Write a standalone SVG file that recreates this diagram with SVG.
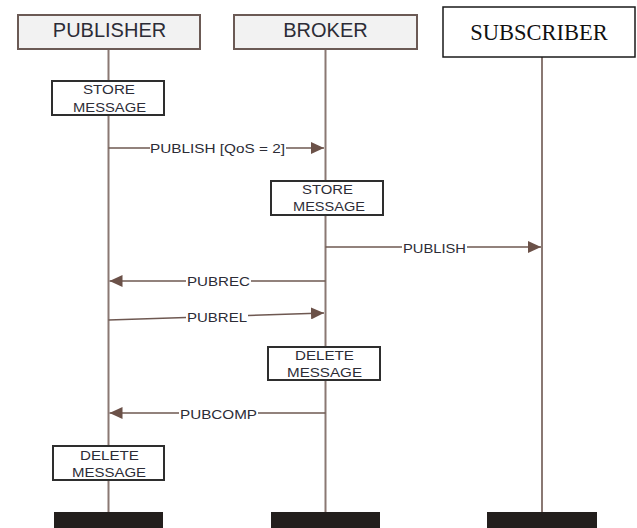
<svg xmlns="http://www.w3.org/2000/svg" width="637" height="528" viewBox="0 0 637 528">
  <style>
    .head rect { fill: #f2f2f2; stroke: #6b5a55; stroke-width: 2; }
    .sub rect { fill: #ffffff; stroke: #1a1a1a; stroke-width: 1.5; }
    .lifeline { stroke: #8a7873; stroke-width: 2; }
    .msg { stroke: #6e5851; stroke-width: 1.6; fill: none; }
    .step rect { fill: #ffffff; stroke: #2e2e2e; stroke-width: 2; }
    .foot { fill: #231f1d; }
    text { font-family: "Liberation Sans", Arial, sans-serif; fill: #2c2c36; }
    .title { font-size: 20px; text-anchor: middle; }
    .serif { font-family: "Liberation Serif", "Times New Roman", serif; font-size: 22.5px; fill: #111; text-anchor: middle; }
    .lbl { font-size: 13.5px; }
    .box { font-size: 12.5px; }
  </style>
  <defs>
    <marker id="arrow" markerUnits="userSpaceOnUse" markerWidth="14" markerHeight="12" refX="13" refY="6" orient="auto">
      <path d="M0,0 L13,6 L0,12 Z" fill="#6b5148"/>
    </marker>
  </defs>

  <rect width="637" height="528" fill="#ffffff"/>

  <!-- lifelines -->
  <g id="lifelines">
    <line class="lifeline" x1="108.5" y1="49" x2="108.5" y2="512"/>
    <line class="lifeline" x1="325.5" y1="49" x2="325.5" y2="512"/>
    <line class="lifeline" x1="542" y1="57" x2="542" y2="512"/>
  </g>

  <!-- participants -->
  <g id="publisher" class="head">
    <rect x="18" y="15" width="182" height="34"/>
    <text class="title" x="109.5" y="37">PUBLISHER</text>
  </g>
  <g id="broker" class="head">
    <rect x="234" y="15" width="183" height="34"/>
    <text class="title" x="325.5" y="37">BROKER</text>
  </g>
  <g id="subscriber" class="sub">
    <rect x="443" y="7" width="192" height="50"/>
    <text class="serif" x="539" y="40">SUBSCRIBER</text>
  </g>

  <!-- messages -->
  <g id="connectors">
    <line class="msg" x1="108.5" y1="148" x2="150" y2="148"/>
    <line class="msg" x1="286" y1="148" x2="324" y2="148" marker-end="url(#arrow)"/>
    <text class="lbl" x="150" y="152.5" textLength="135" lengthAdjust="spacingAndGlyphs">PUBLISH [QoS = 2]</text>

    <line class="msg" x1="325.5" y1="247" x2="402" y2="247"/>
    <line class="msg" x1="467" y1="247" x2="541" y2="247" marker-end="url(#arrow)"/>
    <text class="lbl" x="403" y="252.5" textLength="63" lengthAdjust="spacingAndGlyphs">PUBLISH</text>

    <line class="msg" x1="325.5" y1="281" x2="251" y2="281"/>
    <line class="msg" x1="186" y1="281" x2="109.5" y2="281" marker-end="url(#arrow)"/>
    <text class="lbl" x="187" y="285.5" textLength="63" lengthAdjust="spacingAndGlyphs">PUBREC</text>

    <line class="msg" x1="108.5" y1="320" x2="186" y2="317.5"/>
    <line class="msg" x1="248" y1="315.5" x2="324" y2="313" marker-end="url(#arrow)"/>
    <text class="lbl" x="187" y="321.5" textLength="60" lengthAdjust="spacingAndGlyphs">PUBREL</text>

    <line class="msg" x1="325.5" y1="413" x2="258" y2="413"/>
    <line class="msg" x1="179" y1="413" x2="109.5" y2="413" marker-end="url(#arrow)"/>
    <text class="lbl" x="180" y="418.5" textLength="77" lengthAdjust="spacingAndGlyphs">PUBCOMP</text>
  </g>

  <!-- activity steps -->
  <g id="pub-store" class="step">
    <rect x="52" y="81" width="112" height="34"/>
    <text class="box" x="83" y="94" textLength="52" lengthAdjust="spacingAndGlyphs">STORE</text>
    <text class="box" x="73" y="111.5" textLength="73" lengthAdjust="spacingAndGlyphs">MESSAGE</text>
  </g>
  <g id="broker-store" class="step">
    <rect x="271" y="181" width="112" height="34"/>
    <text class="box" x="302" y="194" textLength="51" lengthAdjust="spacingAndGlyphs">STORE</text>
    <text class="box" x="293" y="210.5" textLength="72" lengthAdjust="spacingAndGlyphs">MESSAGE</text>
  </g>
  <g id="broker-delete" class="step">
    <rect x="268" y="347" width="112" height="33"/>
    <text class="box" x="295" y="360" textLength="59" lengthAdjust="spacingAndGlyphs">DELETE</text>
    <text class="box" x="287" y="376.5" textLength="75" lengthAdjust="spacingAndGlyphs">MESSAGE</text>
  </g>
  <g id="pub-delete" class="step">
    <rect x="53" y="446" width="111" height="34"/>
    <text class="box" x="80" y="460" textLength="59" lengthAdjust="spacingAndGlyphs">DELETE</text>
    <text class="box" x="72" y="476.5" textLength="74" lengthAdjust="spacingAndGlyphs">MESSAGE</text>
  </g>

  <!-- lifeline feet -->
  <g id="feet">
    <rect class="foot" x="54" y="512" width="109" height="20"/>
    <rect class="foot" x="271" y="512" width="109" height="20"/>
    <rect class="foot" x="487" y="512" width="110" height="20"/>
  </g>
</svg>
